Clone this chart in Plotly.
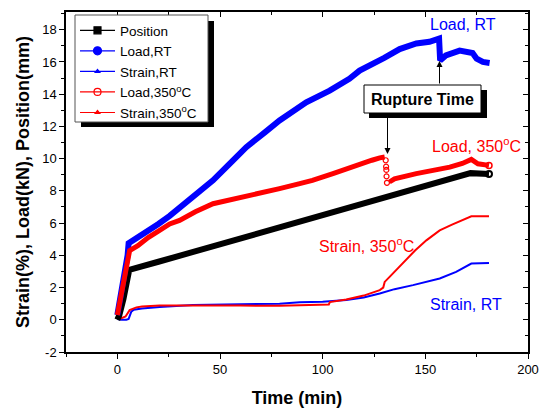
import plotly.graph_objects as go

# ---------------- data ----------------
pos_t = [0, 1, 3, 5, 5.8, 20, 40, 60, 80, 100, 120, 140, 160, 172, 181]
pos_v = [0.0, 0.3, 1.3, 2.5, 3.1, 3.6, 4.33, 5.05, 5.77, 6.49, 7.22, 7.94, 8.66, 9.1, 9.05]

loadrt_t = [0, 1, 3, 5, 5.5, 10, 20, 25.5, 30.3, 40, 46.6, 56, 62.8, 72, 79, 92, 103.4,
            113, 118, 130, 137.5, 145.6, 152, 156.7, 157.2, 160, 166.7, 173, 175, 178, 181.3]
loadrt_v = [0.3, 1.0, 2.3, 4.0, 4.75, 5.1, 5.95, 6.45, 6.95, 7.9, 8.65, 9.85, 10.71, 11.65,
            12.37, 13.5, 14.22, 14.95, 15.46, 16.25, 16.8, 17.15, 17.25, 17.45, 16.1, 16.4,
            16.7, 16.55, 16.2, 16.0, 15.94]

load350_t = [0, 1, 3, 5, 6, 10, 15, 20, 25.5, 30.3, 38, 46.6, 59.6, 70, 79, 88.8, 95, 105,
             118, 124, 127.8, 130.2]
load350_v = [0.3, 1.0, 2.2, 3.6, 4.3, 4.6, 5.1, 5.5, 5.95, 6.17, 6.7, 7.2, 7.55, 7.85, 8.14,
             8.45, 8.65, 9.07, 9.68, 9.9, 10.05, 10.1]
load350_drop_t = [130.7, 130.9, 131.0, 131.1, 131.3]
load350_drop_v = [9.9, 9.5, 9.3, 8.9, 8.5]
load350_after_t = [132.5, 135, 145.6, 155, 161.9, 168, 172.4, 175.6, 181]
load350_after_v = [8.55, 8.75, 9.07, 9.3, 9.47, 9.7, 9.95, 9.68, 9.58]

strainrt_t = [0, 2, 4.4, 5.5, 6.8, 8, 12, 20.6, 36.8, 60, 79, 88.8, 100, 111.5, 120, 127.8,
              135, 144, 150, 157, 165, 172.4, 181]
strainrt_v = [0.05, 0.0, 0.0, 0.05, 0.5, 0.62, 0.7, 0.8, 0.91, 0.95, 1.0, 1.08, 1.12, 1.22,
              1.38, 1.63, 1.9, 2.15, 2.35, 2.56, 2.97, 3.49, 3.53]

strain350_t = [-0.5, 2, 4, 6, 9.3, 12, 20.6, 40, 60, 79, 95, 103, 103.5, 111.5, 120, 127.8,
               129.5, 130.2, 132.6, 136, 140.8, 145, 150.5, 157, 163, 172.4, 181]
strain350_v = [0.19, 0.1, 0.2, 0.6, 0.77, 0.82, 0.88, 0.9, 0.88, 0.87, 0.9, 0.95, 1.1, 1.26,
               1.5, 1.84, 2.0, 2.35, 2.66, 3.1, 3.7, 4.3, 4.93, 5.55, 5.9, 6.42, 6.42]

x_range = [-25, 200]
y_range = [-2, 19.1]
y_tickvals = [-2, 0, 2, 4, 6, 8, 10, 12, 14, 16, 18]
y_ticktext = ["-2", "0", "2", "4", "6", "8", "10", "12", "14", "16", "18"]

BLUE = "#0000ff"
RED = "#ff0000"
FONT = "Liberation Sans, Arial, sans-serif"

fig = go.Figure()

# ---------------- data traces ----------------
fig.add_trace(go.Scatter(x=strainrt_t, y=strainrt_v, mode="lines",
                         line=dict(color=BLUE, width=2), showlegend=False))
fig.add_trace(go.Scatter(x=strain350_t, y=strain350_v, mode="lines",
                         line=dict(color=RED, width=2), showlegend=False))
fig.add_trace(go.Scatter(x=pos_t, y=pos_v, mode="lines",
                         line=dict(color="black", width=6), showlegend=False))
fig.add_trace(go.Scatter(x=[pos_t[-1]], y=[pos_v[-1]], mode="markers",
                         marker=dict(symbol="circle-open", color="black", size=6,
                                     line=dict(width=2)), showlegend=False))
fig.add_trace(go.Scatter(x=loadrt_t, y=loadrt_v, mode="lines",
                         line=dict(color=BLUE, width=6), showlegend=False))
fig.add_trace(go.Scatter(x=load350_t, y=load350_v, mode="lines",
                         line=dict(color=RED, width=5), showlegend=False))
fig.add_trace(go.Scatter(x=load350_drop_t, y=load350_drop_v, mode="markers",
                         marker=dict(symbol="circle-open", color=RED, size=5,
                                     line=dict(width=1.2)), showlegend=False))
fig.add_trace(go.Scatter(x=load350_after_t, y=load350_after_v, mode="lines",
                         line=dict(color=RED, width=5), showlegend=False))
fig.add_trace(go.Scatter(x=[load350_after_t[-1]], y=[load350_after_v[-1]], mode="markers",
                         marker=dict(symbol="circle-open", color=RED, size=6,
                                     line=dict(width=1.5)), showlegend=False))

# ---------------- legend-only traces ----------------
legend_items = [
    ("Position", "black", "square", 7),
    ("Load,RT", BLUE, "circle", 8),
    ("Strain,RT", BLUE, "triangle-up", 4),
    ("Load,350<sup>o</sup>C", RED, "circle-open", 7),
    ("Strain,350<sup>o</sup>C", RED, "triangle-up", 4),
]
for name, col, sym, sz in legend_items:
    fig.add_trace(go.Scatter(x=[None], y=[None], mode="lines+markers", name=name,
                             line=dict(color=col, width=1.2),
                             marker=dict(symbol=sym, color=col, size=sz,
                                         line=dict(color=col, width=1.2))))

# dummy trace for the mirrored (inside) tick axes
fig.add_trace(go.Scatter(x=[None], y=[None], xaxis="x2", yaxis="y2", showlegend=False))

# ---------------- layout ----------------
L, R, T, B = 66, 11, 12, 58
W, H = 539, 410
pw, ph = W - L - R, H - T - B


def px2paper(px, py):
    return (px - L) / pw, (H - B - py) / ph


shapes = []
# legend shadow and box
sx0, sy0 = px2paper(81, 127)
sx1, sy1 = px2paper(214, 21)
shapes.append(dict(type="rect", xref="paper", yref="paper", x0=sx0, x1=sx1, y0=sy0, y1=sy1,
                   fillcolor="black", line=dict(width=0), layer="above"))
bx0, by0 = px2paper(75, 122)
bx1, by1 = px2paper(208, 15)
shapes.append(dict(type="rect", xref="paper", yref="paper", x0=bx0, x1=bx1, y0=by0, y1=by1,
                   fillcolor="white", line=dict(color="#555555", width=1), layer="above"))
# rupture time box + shadow
rx0, ry0 = px2paper(369, 118)
rx1, ry1 = px2paper(487, 90)
shapes.append(dict(type="rect", xref="paper", yref="paper", x0=rx0, x1=rx1, y0=ry0, y1=ry1,
                   fillcolor="black", line=dict(width=0), layer="above"))
rx0, ry0 = px2paper(364, 113)
rx1, ry1 = px2paper(481, 85)
shapes.append(dict(type="rect", xref="paper", yref="paper", x0=rx0, x1=rx1, y0=ry0, y1=ry1,
                   fillcolor="white", line=dict(color="black", width=1), layer="above"))

annotations = []


def label(text, px, py, color, size=16, bold=False):
    x, y = px2paper(px, py)
    t = f"<b>{text}</b>" if bold else text
    annotations.append(dict(text=t, x=x, y=y, xref="paper", yref="paper", showarrow=False,
                            xanchor="center", yanchor="middle",
                            font=dict(family=FONT, size=size, color=color)))


label("Load, RT", 463, 25, BLUE)
label("Load, 350<sup>o</sup>C", 476, 145, RED)
label("Strain, 350<sup>o</sup>C", 366, 245, RED)
label("Strain, RT", 466, 304, BLUE)
label("Rupture Time", 422.5, 99, "black", size=16, bold=True)

# arrows (head position, tail position in pixels)
for (hx, hy, tx, ty) in [(439.5, 61, 439.5, 85), (387.5, 154, 387.5, 113)]:
    x, y = px2paper(hx, hy)
    annotations.append(dict(x=x, y=y, ax=tx - hx, ay=ty - hy, xref="paper", yref="paper",
                            text="", showarrow=True, arrowhead=2, arrowsize=1.2,
                            arrowwidth=1, arrowcolor="black"))

lx, ly = px2paper(75, 15)

fig.update_layout(
    template="none",
    width=W, height=H,
    margin=dict(l=L, r=R, t=T, b=B, autoexpand=False),
    paper_bgcolor="white", plot_bgcolor="white",
    font=dict(family=FONT, color="black"),
    showlegend=True,
    legend=dict(x=lx, y=ly, xanchor="left", yanchor="top", bgcolor="rgba(0,0,0,0)",
                borderwidth=0, font=dict(size=13.5, family=FONT), itemwidth=35,
                tracegroupgap=0, itemclick=False),
    xaxis=dict(range=x_range, showgrid=False, zeroline=False, showline=True, automargin=False,
               linecolor="black", linewidth=1.5, mirror=True,
               ticks="outside", ticklen=5, tickwidth=1.2, tickcolor="black",
               tick0=0, dtick=50, tickfont=dict(size=13),
               minor=dict(dtick=25, ticks="outside", ticklen=3, tickcolor="black", tickwidth=1.2),
               title=dict(text="<b>Time (min)</b>", font=dict(size=18), standoff=15)),
    yaxis=dict(range=y_range, showgrid=False, zeroline=False, showline=True, automargin=False,
               linecolor="black", linewidth=1.5, mirror=True,
               ticks="outside", ticklen=5, tickwidth=1.2, tickcolor="black",
               tickmode="array", tickvals=y_tickvals, ticktext=y_ticktext,
               tickfont=dict(size=13),
               minor=dict(dtick=1, ticks="outside", ticklen=3, tickcolor="black", tickwidth=1.2),
               title=dict(text="<b>Strain(%), Load(kN), Position(mm)</b>", font=dict(size=18),
                          standoff=8)),
    xaxis2=dict(range=x_range, overlaying="x", side="top", showgrid=False, zeroline=False,
                showline=False, showticklabels=False, ticks="inside", ticklen=5,
                automargin=False,
                tickwidth=1.2, tickcolor="black", tick0=0, dtick=50,
                minor=dict(dtick=25, ticks="inside", ticklen=3, tickcolor="black", tickwidth=1.2)),
    yaxis2=dict(range=y_range, overlaying="y", side="right", showgrid=False, zeroline=False,
                showline=False, showticklabels=False, ticks="inside", ticklen=5,
                automargin=False,
                tickwidth=1.2, tickcolor="black", tick0=0, dtick=2,
                minor=dict(dtick=1, ticks="inside", ticklen=3, tickcolor="black", tickwidth=1.2)),
    shapes=shapes,
    annotations=annotations,
)

fig.write_html("out.html", config=dict(displayModeBar=False),
               post_script="document.body.style.margin='0px';")
